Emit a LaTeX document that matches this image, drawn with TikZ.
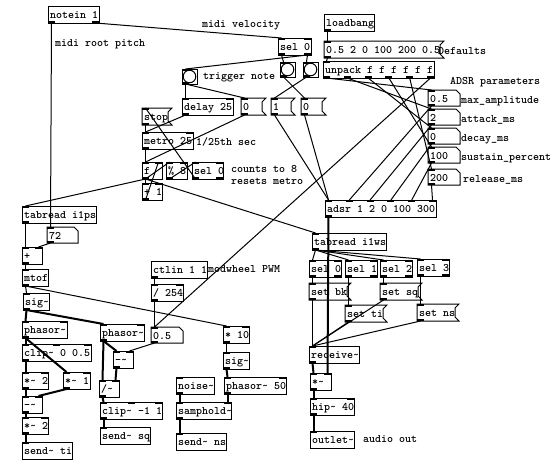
\documentclass[tikz,border=0pt]{standalone}
\usepackage{fontspec}
\usetikzlibrary{calc}
\newcommand\pdtxtfont{\ttfamily\bfseries\fontsize{11.43}{11.43}\selectfont}
\newcommand\tld{\string~}
\newcommand\pdio[4]{%
  \ifnum#2>0
  \foreach \k in {1,...,#2}{%
    \ifnum#2=1 \def\xo{0}\else\pgfmathsetmacro\xo{(#4-7)*(\k-1)/(#2-1)}\fi
    \fill ($(#1.north west)+(\xo,0)$) rectangle ++(7,2);
    \coordinate (#1-i\k) at ($(#1.north west)+(\xo+3.5,0)$);
  }%
  \fi
  \ifnum#3>0
  \foreach \k in {1,...,#3}{%
    \ifnum#3=1 \def\xo{0}\else\pgfmathsetmacro\xo{(#4-7)*(\k-1)/(#3-1)}\fi
    \fill ($(#1.south west)+(\xo,0)$) rectangle ++(7,-2);
    \coordinate (#1-o\k) at ($(#1.south west)+(\xo+3.5,0)$);
  }%
  \fi
}
\newcommand\pdobj[7]{%
  \node[pdbox, minimum width=#4pt] (#1) at (#2,#3) {};
  \node[pdtxt] (#1-t) at ($(#1.west)+(2,0)$) {#5};
  \pdio{#1}{#6}{#7}{#4}%
}
\newcommand\pdmsg[5]{%
  \node[pdbox, draw=none, minimum width=#4pt] (#1) at (#2,#3) {};
  \draw[line width=1pt] (#1.north west) -- ($(#1.north east)+(4,0)$) -- ($(#1.north east)+(0,4)$) -- ($(#1.south east)+(0,-4)$) -- ($(#1.south east)+(4,0)$) -- (#1.south west) -- cycle;
  \node[pdtxt] (#1-t) at ($(#1.west)+(2,0)$) {#5};
  \pdio{#1}{1}{1}{#4}%
}
\newcommand\pdatom[5]{%
  \node[pdbox, draw=none, minimum width=#4pt, minimum height=16pt] (#1) at (#2,#3) {};
  \draw[line width=1pt] (#1.north west) -- ($(#1.north east)+(-4,0)$) -- ($(#1.north east)+(0,4)$) -- (#1.south east) -- (#1.south west) -- cycle;
  \node[pdtxt] (#1-t) at ($(#1.west)+(2,0)$) {#5};
  \pdio{#1}{1}{1}{#4}%
}
\newcommand\pdbang[3]{%
  \node[pdbox, minimum width=15pt, minimum height=15pt] (#1) at (#2,#3) {};
  \draw[line width=1pt] (#1.center) circle (6.3pt);
  \pdio{#1}{1}{1}{15}%
}
\begin{document}
\begin{tikzpicture}[x=1pt,y=-1pt,
  pdbox/.style={draw, line width=1pt, inner sep=0pt, outer sep=0pt, minimum height=17pt, anchor=north west},
  pdtxt/.style={inner sep=0pt, anchor=west, font=\pdtxtfont, text height=8pt, text depth=0pt},
  pdctl/.style={line width=1pt},
  pdsig/.style={line width=2pt},
]
\fill[white] (0,0) rectangle (557,467);
\useasboundingbox (0,0) rectangle (557,467);

% objects
\pdobj{notein}{48}{6}{51}{notein 1}{0}{2}
\pdobj{selA}{278}{38}{33}{sel 0}{2}{2}
\pdobj{loadbang}{324}{14}{50}{loadbang}{0}{1}
\pdmsg{msgdef}{324}{41}{116}{0.5 2 0 100 200 0.5}
\pdobj{unpack}{323}{61}{111}{unpack f f f f f f}{1}{6}
\pdbang{bangT}{182}{69}
\pdbang{bangB}{280}{62}
\pdbang{bangC}{303}{62}
\pdobj{delay}{182}{98}{51}{delay 25}{2}{1}
\pdmsg{msgZa}{241}{98}{21}{0}
\pdmsg{msgOne}{271}{98}{20}{1}
\pdmsg{msgZb}{301}{98}{21}{0}
\pdmsg{stop}{142}{108}{26}{stop}
\pdobj{metro}{142}{132}{51}{metro 25}{2}{1}
\pdobj{fbox}{142}{162}{20}{f}{2}{1}
\pdobj{modE}{166}{162}{21}{\% 8}{2}{1}
\pdobj{selB}{192}{162}{31}{sel 0}{2}{2}
\pdobj{plusOne}{142}{183}{20}{+ 1}{2}{1}
\pdobj{tabps}{22}{206}{74}{tabread i1ps}{1}{1}
\pdatom{nSeventy}{47}{227}{31}{72}
\pdobj{plus}{22}{247}{20}{+}{2}{1}
\pdobj{mtof}{22}{269}{26}{mtof}{1}{1}
\pdobj{sigA}{23}{293}{26}{sig\tld}{1}{1}
\pdobj{phasorL}{22}{321}{45}{phasor\tld}{2}{1}
\pdobj{clipA}{22}{344}{69}{clip\tld{} 0 0.5}{3}{1}
\pdobj{mulTwoA}{22}{372}{26}{*\tld{} 2}{2}{1}
\pdobj{mulOne}{63}{372}{27}{*\tld{} 1}{2}{1}
\pdobj{subA}{22}{396}{20}{-\tld}{2}{1}
\pdobj{mulTwoB}{22}{417}{26}{*\tld{} 2}{2}{1}
\pdobj{sendti}{22}{442}{50}{send\tld{} ti}{1}{0}
\pdobj{phasorM}{100}{324}{44}{phasor\tld}{2}{1}
\pdatom{nHalf}{151}{327}{32}{0.5}
\pdobj{mulTen}{223}{326}{26}{* 10}{2}{1}
\pdobj{subM}{113}{351}{20}{-\tld}{2}{1}
\pdobj{sigB}{223}{352}{26}{sig\tld}{1}{1}
\pdobj{divM}{99}{380}{20}{/\tld}{2}{1}
\pdobj{noise}{176}{377}{38}{noise\tld}{1}{1}
\pdobj{phasorF}{224}{377}{62}{phasor\tld{} 50}{2}{1}
\pdobj{clipB}{100}{402}{62}{clip\tld{} -1 1}{3}{1}
\pdobj{samphold}{176}{402}{55}{samphold\tld}{2}{1}
\pdobj{sendsq}{100}{427}{50}{send\tld{} sq}{1}{0}
\pdobj{sendns}{176}{433}{50}{send\tld{} ns}{1}{0}
\pdobj{ctlin}{151}{261}{56}{ctlin 1 1}{0}{1}
\pdobj{divTwo}{151}{284}{32}{/ 254}{2}{1}
\pdobj{adsr}{325}{200}{111}{adsr 1 2 0 100 300}{6}{1}
\pdatom{aAmp}{428}{90}{32}{0.5}
\pdatom{aAtt}{428}{109}{32}{2}
\pdatom{aDec}{428}{128}{32}{0}
\pdatom{aSus}{428}{147}{32}{100}
\pdatom{aRel}{428}{169}{32}{200}
\pdobj{tabws}{312}{233}{74}{tabread i1ws}{1}{1}
\pdobj{selC}{309}{260}{32}{sel 0}{2}{2}
\pdobj{selD}{345}{260}{32}{sel 1}{2}{2}
\pdobj{selE}{380}{260}{32}{sel 2}{2}{2}
\pdobj{selF}{417}{259}{32}{sel 3}{2}{2}
\pdmsg{setbk}{309}{283}{38}{set bk}
\pdmsg{setsq}{380}{283}{38}{set sq}
\pdmsg{setti}{345}{305}{38}{set ti}
\pdmsg{setns}{417}{304}{38}{set ns}
\pdobj{receive}{309}{346}{50}{receive\tld}{1}{1}
\pdobj{mulS}{310}{373}{21}{*\tld}{2}{1}
\pdobj{hip}{310}{398}{44}{hip\tld{} 40}{2}{1}
\pdobj{outlet}{310}{431}{44}{outlet\tld}{1}{0}

% comments
\node[pdtxt] (cRoot) at (55,42) {midi root pitch};
\node[pdtxt] (cVel) at (202,23) {midi velocity};
\node[pdtxt] (cTrig) at (203,75) {trigger note};
\node[pdtxt] (cMetro) at (196,141) {1/25th sec};
\node[pdtxt] (cCount) at (231,168) {counts to 8};
\node[pdtxt] (cReset) at (231,180) {resets metro};
\node[pdtxt] (cDef) at (438,50) {Defaults};
\node[pdtxt] (cAdsr) at (450,80) {ADSR parameters};
\node[pdtxt] (cAmp) at (461,99) {max\_amplitude};
\node[pdtxt] (cAtt) at (461,118) {attack\_ms};
\node[pdtxt] (cDec) at (461,137) {decay\_ms};
\node[pdtxt] (cSus) at (461,156) {sustain\_percent};
\node[pdtxt] (cRel) at (463,178) {release\_ms};
\node[pdtxt] (cMod) at (208,268) {modwheel PWM};
\node[pdtxt] (cOut) at (363,438) {audio out};

% control connections
\draw[pdctl] (notein-o1) -- (nSeventy-i1);
\draw[pdctl] (notein-o2) -- (selA-i1);
\draw[pdctl] (selA-o1) -- (bangB-i1);
\draw[pdctl] (selA-o2) -- (bangC-i1);
\draw[pdctl] (selA-o2) -- (bangT-i1);
\draw[pdctl] (bangB-o1) -- (msgZb-i1);
\draw[pdctl] (bangC-o1) -- (msgOne-i1);
\draw[pdctl] (bangT-o1) -- (delay-i1);
\draw[pdctl] (bangT-o1) -- (msgZa-i1);
\draw[pdctl] (delay-o1) -- (metro-i1);
\draw[pdctl] (msgZa-o1) -- (fbox-i1);
\draw[pdctl] (stop-o1) -- (metro-i1);
\draw[pdctl] (metro-o1) -- (fbox-i1);
\draw[pdctl] (fbox-o1) -- (plusOne-i1);
\draw[pdctl] (plusOne-o1) -- (fbox-i2);
\draw[pdctl] (fbox-o1) -- (modE-i1);
\draw[pdctl] (modE-o1) -- (selB-i1);
\draw[pdctl] (selB-o1) -- (stop-i1);
\draw[pdctl] (fbox-o1) -- (tabps-i1);
\draw[pdctl] (fbox-o1) -- (tabws-i1);
\draw[pdctl] (tabps-o1) -- (plus-i1);
\draw[pdctl] (nSeventy-o1) -- (plus-i2);
\draw[pdctl] (plus-o1) -- (mtof-i1);
\draw[pdctl] (mtof-o1) -- (sigA-i1);
\draw[pdctl] (mtof-o1) -- (mulTen-i1);
\draw[pdctl] (mulTen-o1) -- (sigB-i1);
\draw[pdctl] (ctlin-o1) -- (divTwo-i1);
\draw[pdctl] (divTwo-o1) -- (nHalf-i1);
\draw[pdctl] (unpack-o6) -- (nHalf-i1);
\draw[pdctl] (nHalf-o1) -- (subM-i2);
\draw[pdctl] (loadbang-o1) -- (msgdef-i1);
\draw[pdctl] (msgdef-o1) -- (unpack-i1);
\draw[pdctl] (unpack-o1) -- (aAmp-i1);
\draw[pdctl] (unpack-o2) -- (aAtt-i1);
\draw[pdctl] (unpack-o3) -- (aDec-i1);
\draw[pdctl] (unpack-o4) -- (aSus-i1);
\draw[pdctl] (unpack-o5) -- (aRel-i1);
\draw[pdctl] (aAmp-o1) -- (adsr-i2);
\draw[pdctl] (aAtt-o1) -- (adsr-i3);
\draw[pdctl] (aDec-o1) -- (adsr-i4);
\draw[pdctl] (aSus-o1) -- (adsr-i5);
\draw[pdctl] (aRel-o1) -- (adsr-i6);
\draw[pdctl] (msgOne-o1) -- (adsr-i1);
\draw[pdctl] (msgZb-o1) -- (adsr-i1);
\draw[pdctl] (tabws-o1) -- (selC-i1);
\draw[pdctl] (tabws-o1) -- (selD-i1);
\draw[pdctl] (tabws-o1) -- (selE-i1);
\draw[pdctl] (tabws-o1) -- (selF-i1);
\draw[pdctl] (selC-o1) -- (setbk-i1);
\draw[pdctl] (selD-o1) -- (setti-i1);
\draw[pdctl] (selE-o1) -- (setsq-i1);
\draw[pdctl] (selF-o1) -- (setns-i1);
\draw[pdctl] (setbk-o1) -- (receive-i1);
\draw[pdctl] (setti-o1) -- (receive-i1);
\draw[pdctl] (setsq-o1) -- (receive-i1);
\draw[pdctl] (setns-o1) -- (receive-i1);

% signal connections
\draw[pdsig] (adsr-o1) -- (mulS-i2);
\draw[pdsig] (receive-o1) -- (mulS-i1);
\draw[pdsig] (mulS-o1) -- (hip-i1);
\draw[pdsig] (hip-o1) -- (outlet-i1);
\draw[pdsig] (sigA-o1) -- (phasorL-i1);
\draw[pdsig] (sigA-o1) -- (phasorM-i1);
\draw[pdsig] (phasorL-o1) -- (clipA-i1);
\draw[pdsig] (phasorL-o1) -- (mulOne-i1);
\draw[pdsig] (clipA-o1) -- (mulTwoA-i1);
\draw[pdsig] (mulTwoA-o1) -- (subA-i1);
\draw[pdsig] (mulOne-o1) -- (subA-i2);
\draw[pdsig] (subA-o1) -- (mulTwoB-i1);
\draw[pdsig] (mulTwoB-o1) -- (sendti-i1);
\draw[pdsig] (phasorM-o1) -- (subM-i1);
\draw[pdsig] (phasorM-o1) -- (divM-i1);
\draw[pdsig] (subM-o1) -- (divM-i2);
\draw[pdsig] (divM-o1) -- (clipB-i1);
\draw[pdsig] (clipB-o1) -- (sendsq-i1);
\draw[pdsig] (sigB-o1) -- (phasorF-i1);
\draw[pdsig] (phasorF-o1) -- (samphold-i2);
\draw[pdsig] (noise-o1) -- (samphold-i1);
\draw[pdsig] (samphold-o1) -- (sendns-i1);
\end{tikzpicture}
\end{document}
